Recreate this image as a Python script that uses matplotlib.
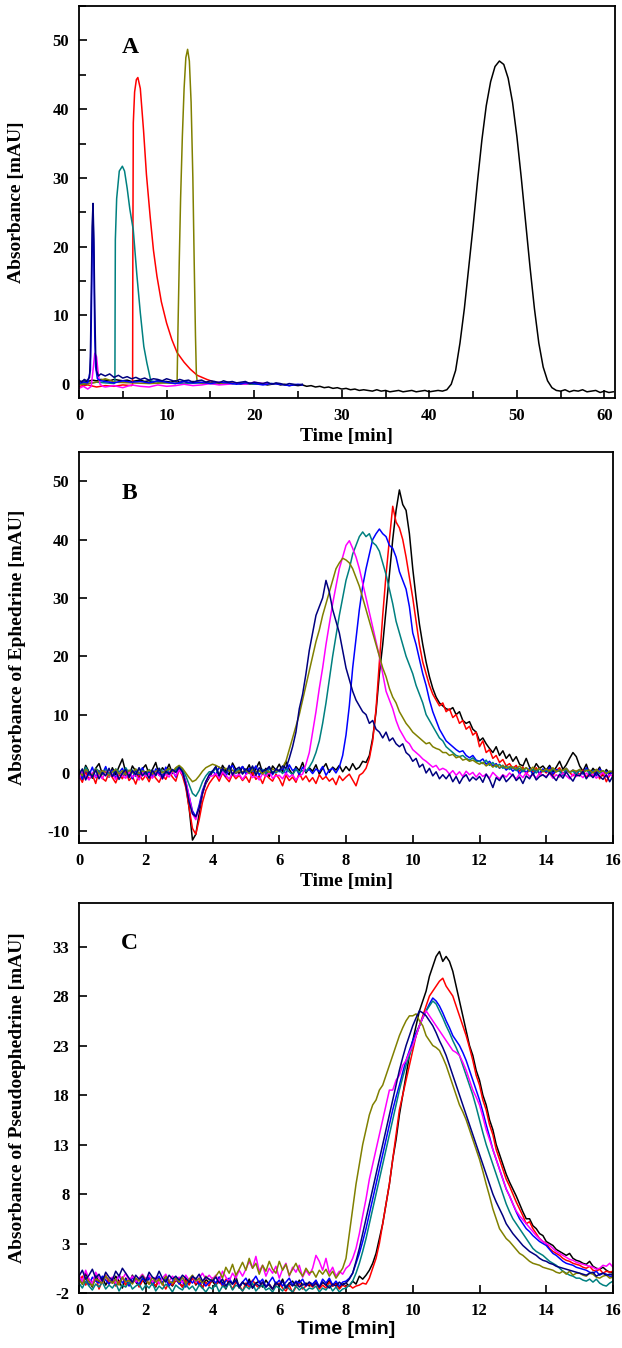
import numpy as np
import matplotlib
matplotlib.use('Agg')
import matplotlib.pyplot as plt
from matplotlib.ticker import MultipleLocator

plt.rcParams['font.family'] = ['Liberation Serif', 'DejaVu Serif']
plt.rcParams['font.weight'] = 'bold'
plt.rcParams['axes.unicode_minus'] = False

COLORS = {'black': '#000000', 'red': '#ff0000', 'blue': '#0000ff', 'teal': '#008080',
          'magenta': '#ff00ff', 'olive': '#808000', 'navy': '#000080'}

# ---------------- Panel A: full chromatograms ----------------
BLACK_A_T = list(np.round(np.arange(123) * 0.5, 1))
BLACK_A = [0.3, 0.5, 0.4, 0.6, 0.5, 0.7, 0.6, 0.5, 0.7, 0.6,
           0.5, 0.6, 0.4, 0.5, 0.6, 0.4, 0.5, 0.3, 0.5, 0.4,
           0.4, 0.3, 0.5, 0.3, 0.4, 0.2, 0.4, 0.3, 0.2, 0.3,
           0.2, 0.3, 0.1, 0.2, 0.3, 0.1, 0.2, 0.0, 0.2, 0.1,
           0.1, 0.0, 0.1, -0.1, 0.0, 0.1, -0.1, 0.0, -0.2, -0.1,
           -0.2, -0.1, -0.3, -0.2, -0.4, -0.3, -0.5, -0.4, -0.6, -0.5,
           -0.7, -0.6, -0.8, -0.7, -0.9, -0.8, -0.9, -1.0, -0.8, -1.0,
           -0.9, -1.1, -1.0, -0.9, -1.1, -1.0, -0.9, -1.1, -1.0, -0.9,
           -1.1, -1.0, -0.9, -1.0, -0.8, 0.0, 2.0, 6.0, 11.0, 17.0,
           23.0, 29.5, 35.5, 40.5, 44.0, 46.2, 47.0, 46.5, 44.5, 41.0,
           36.0, 30.0, 23.5, 17.0, 11.0, 6.0, 2.5, 0.5, -0.5, -0.9,
           -1.0, -0.8, -1.1, -0.9, -1.0, -0.8, -1.1, -1.0, -0.9, -1.2,
           -1.0, -1.2, -1.1]

NAVY_A_T = [0, 0.3, 0.6, 0.9, 1.2, 1.3, 1.4, 1.5, 1.6, 1.7, 1.8, 1.9, 2.0, 2.2, 2.5] + \
    list(np.round(np.arange(46) * 0.5 + 3.0, 1))
NAVY_A = [0.6, 0.3, 0.7, 0.5, 1.0, 4.0, 13.0, 23.0, 26.3, 21.0, 11.0, 4.5, 2.0, 1.2, 1.5,
          1.2, 1.5, 1.0, 1.3, 0.9, 1.1, 0.8, 1.0, 0.7, 0.9,
          0.6, 0.8, 0.7, 0.5, 0.8, 0.6, 0.4, 0.7, 0.5, 0.6,
          0.3, 0.5, 0.6, 0.3, 0.5, 0.4, 0.2, 0.5, 0.3, 0.4,
          0.2, 0.3, 0.4, 0.1, 0.3, 0.2, 0.1, 0.3, 0.0, 0.2,
          0.1, -0.1, 0.1, 0.0, -0.1, 0.0]

BLUE_A_T = [0, 0.5, 1.0, 1.3, 1.4, 1.5, 1.6, 1.7, 1.8, 1.9, 2.1, 2.5] + list(range(3, 26)) + [25.5]
BLUE_A = [0.1, 0.3, 0.2, 2.0, 9.0, 19.0, 25.0, 18.0, 7.0, 2.5, 0.8, 0.5,
          0.4, 0.2, 0.5, 0.3, 0.4, 0.2, 0.5, 0.3, 0.1, 0.4, 0.2, 0.3,
          0.1, 0.3, 0.2, 0.0, 0.2, 0.1, -0.1, 0.1, 0.0, -0.2, 0.0, -0.1]

MAGENTA_A_T = [0, 0.5, 1.0, 1.4, 1.6, 1.8, 2.0, 2.2, 2.4, 2.7] + list(range(3, 22)) + [21.5]
MAGENTA_A = [-0.6, -0.3, -0.7, -0.3, 2.0, 4.5, 4.0, 1.5, 0.0, -0.3,
             -0.4, -0.2, -0.5, -0.1, -0.3, -0.4, -0.1, -0.3, -0.2, 0.0,
             -0.2, -0.1, 0.1, -0.1, 0.0, 0.2, 0.0, 0.3, 0.1, 0.2]

TEAL_A_T = [0, 1, 2, 3, 4, 4.1, 4.12, 4.15, 4.3, 4.6, 4.95, 5.2, 5.5, 5.8, 6.2,
            6.6, 7.0, 7.4, 7.75, 8.2, 9, 10, 12, 14, 16, 18, 20, 22]
TEAL_A = [0.0, 0.1, 0.3, 0.2, 0.1, 0.2, 10.0, 21.0, 27.0, 31.0, 31.7, 31.0, 28.5, 25.5, 22.4,
          16.0, 10.4, 5.5, 3.1, 0.5, 0.3, 0.2, 0.1, 0.2, 0.0, 0.1, 0.0, 0.1]

RED_A_T = [0, 1, 2, 3, 4, 5, 6.0, 6.12, 6.15, 6.2, 6.35, 6.55, 6.72, 7.0, 7.37,
           7.7, 8.13, 8.5, 8.9, 9.4, 10.0, 10.6, 11.2, 12.0, 12.7, 13.5, 14.6, 15.5, 17, 19, 21]
RED_A = [-0.3, -0.1, -0.4, -0.2, -0.3, -0.1, -0.2, -0.1, 20.0, 38.0, 42.5, 44.3, 44.6, 43.0, 36.9,
         30.5, 24.3, 19.5, 15.7, 12.0, 8.9, 6.5, 4.6, 3.2, 2.2, 1.3, 0.7, 0.3, 0.2, 0.1, 0.0]

OLIVE_A_T = [0, 1, 2, 2.5, 3.0, 3.5, 4, 6, 8, 10, 11.0, 11.2, 11.3, 11.45, 11.6, 11.8,
             12.0, 12.2, 12.4, 12.6, 12.8, 13.0, 13.15, 13.3, 13.4, 13.5, 14, 16, 18, 20, 22]
OLIVE_A = [0.0, 0.1, 0.3, 0.6, 0.8, 0.6, 0.3, 0.2, 0.1, 0.2, 0.1, 0.3, 8.0, 18.0, 27.0, 36.0,
           43.0, 47.5, 48.7, 47.0, 41.0, 30.0, 18.0, 7.0, 1.5, 0.3, 0.2, 0.1, 0.2, 0.1, 0.0]

# ---------------- Panels B and C: 0.1 min sampling, 0 - 16 min ----------------
TIME_BC = np.round(np.arange(161) * 0.1, 1)

# Panel B: ephedrine
BLACK_B = [0.5, -0.6, 1.3, 0.2, -0.9, 0.8, 1.6, -0.2, 0.4, -0.7,
           0.9, -0.3, 1.1, 2.4, 0.1, -0.5, 1.2, 0.3, -0.8, 0.7,
           1.4, -0.2, 0.6, 1.8, -0.4, 0.9, 0.2, 1.5, -0.1, 0.8,
           1.2, 0.4, -2.0, -6.0, -11.5, -10.5, -7.0, -3.5, -1.8, -0.8,
           0.2, 1.0, -0.5, 1.3, 0.4, -0.3, 1.7, 0.6, -0.2, 1.1,
           0.3, 1.4, -0.4, 0.7, 1.9, 0.0, 0.8, -0.6, 1.2, 0.5,
           1.5, 0.2, 2.0, 0.6, -0.3, 1.1, 0.4, 1.8, 0.0, 0.9,
           0.3, 1.4, -0.2, 0.8, 1.6, 0.1, 1.0, 0.5, 1.3, 0.2,
           1.1, 0.4, 1.6, 0.6, 1.0, 2.0, 1.8, 3.0, 6.0, 10.5,
           17.0, 22.0, 28.0, 34.0, 40.0, 45.0, 48.5, 46.0, 45.0, 41.0,
           35.0, 30.0, 25.5, 22.0, 19.0, 16.5, 14.5, 13.0, 12.0, 11.5,
           11.0, 10.8, 11.2, 10.0, 10.5, 9.0, 8.5, 8.8, 7.5, 7.0,
           5.5, 6.0, 5.0, 4.2, 3.5, 4.5, 3.0, 3.8, 2.5, 3.2,
           2.0, 2.8, 1.5, 1.2, 2.5, 1.0, 0.4, 1.6, 0.8, 1.2,
           0.5, 1.3, 0.2, 1.0, 2.0, 0.6, 1.4, 2.5, 3.5, 2.8,
           1.2, 0.3, 1.5, -0.2, 0.8, 0.1, 1.0, -0.5, 0.6, -0.1,
           0.4]
RED_B = [-0.5, -1.6, 0.2, -1.1, -0.3, -1.8, 0.4, -0.9, -1.4, 0.1,
         -0.8, -1.7, -0.2, -1.0, 0.3, -1.3, -0.6, -1.9, -0.1, -1.2,
         -0.4, -1.5, 0.0, -0.9, -1.6, -0.3, -1.1, 0.2, -0.7, -1.4,
         0.6, -0.5, -2.5, -6.0, -9.5, -10.5, -8.0, -5.0, -3.0, -1.8,
         -1.0, -0.3, -1.4, 0.0, -0.8, -1.5, -0.2, -1.0, -0.4, -1.3,
         -0.6, -1.6, 0.1, -1.1, -0.5, -1.8, -0.3, -0.9, -1.4, -0.2,
         -1.0, -2.2, -0.4, -1.3, -0.7, -1.6, 0.0, -1.2, -0.5, -1.5,
         -0.8, -1.8, -0.3, -1.1, -0.6, -1.4, -0.9, -2.0, -0.5, -1.3,
         -0.7, -0.2, -1.2, -2.2, -0.4, 0.0, 0.8, 2.5, 5.5, 11.0,
         19.0, 27.0, 34.0, 40.0, 45.7, 43.0, 42.0, 40.0, 37.0, 33.5,
         30.0, 26.0, 22.0, 19.0, 17.0, 15.0, 13.5, 12.5, 11.5, 12.0,
         10.5, 11.0, 9.5, 10.0, 8.5, 9.0, 7.5, 8.0, 6.5, 7.0,
         4.5, 5.5, 3.5, 4.0, 2.5, 3.0, 1.8, 2.3, 1.2, 1.6,
         0.8, 1.3, 0.3, 1.0, -0.2, 0.6, 0.2, 0.9, -0.3, 0.5,
         0.0, 0.7, -0.4, 0.4, 0.9, -0.2, 0.5, 0.1, -0.5, 0.3,
         -0.3, 0.5, -0.8, 0.2, -0.5, 0.6, -1.0, 0.0, -1.5, -0.4,
         0.3]
BLUE_B = [0.2, -1.1, 0.7, -0.4, 1.0, -0.8, 0.3, -0.2, 1.1, -0.6,
          0.5, -0.9, 0.1, 0.8, -0.5, 0.4, -1.0, 0.6, -0.3, 0.9,
          -0.4, 0.3, -0.8, 0.7, 0.0, -0.6, 1.0, -0.2, 0.5, -0.7,
          1.0, 0.2, -1.5, -4.0, -6.5, -7.5, -5.5, -3.0, -1.5, -0.5,
          0.4, -0.3, 1.0, 0.2, -0.6, 0.7, 1.3, -0.1, 0.5, 1.1,
          -0.2, 0.8, 0.3, 1.2, -0.4, 0.6, 0.1, 1.0, -0.3, 0.7,
          0.2, 0.9, -0.2, 1.4, 0.4, 0.8, -0.3, 1.0, 0.3, 0.6,
          -0.1, 0.7, 0.2, 1.1, -0.4, 0.5, 0.8, 0.0, 1.0, 3.0,
          6.5, 11.5, 18.0, 23.0, 28.0, 32.0, 35.0, 37.5, 40.0, 41.0,
          41.8, 41.0, 40.5, 39.0, 38.5, 37.0, 34.5, 33.0, 31.5, 28.5,
          24.0, 22.0, 19.5, 17.0, 15.0, 12.5, 10.5, 9.0, 7.5, 6.5,
          5.5, 5.0, 4.5, 4.0, 3.6, 3.8, 3.0, 2.6, 3.0, 2.2,
          2.0, 2.4, 1.5, 2.0, 1.2, 1.6, 0.8, 1.3, 0.5, 1.0,
          0.3, 0.9, -0.2, 0.6, 0.1, 0.8, -0.3, 0.5, 0.0, 0.7,
          0.2, 1.0, -0.2, 0.6, 0.3, -0.4, 0.8, 0.1, 0.5, -0.3,
          0.6, -0.2, 0.9, 0.0, 0.4, -0.5, 0.7, 0.1, 0.3, -0.4,
          0.4]
TEAL_B = [0.6, -0.4, 1.0, 0.1, -0.7, 0.8, 0.3, -0.3, 0.6, -0.1,
          -0.5, 0.7, 0.2, -0.4, 0.9, 0.0, 0.5, -0.6, 0.8, 0.2,
          -0.3, 0.6, 0.1, -0.5, 0.8, 0.3, -0.2, 0.7, 0.0, 0.5,
          1.2, 0.6, -0.5, -2.0, -3.5, -4.0, -3.0, -1.5, -0.5, 0.2,
          0.2, 0.8, -0.3, 0.5, 0.0, 0.9, -0.4, 0.4, 0.7, -0.1,
          0.5, 0.1, 0.8, -0.3, 0.4, 0.6, -0.2, 0.7, 0.2, 0.0,
          0.5, -0.1, 0.7, 0.2, -0.3, 0.6, 0.1, 0.4, 0.3, 1.0,
          2.0, 3.5, 5.5, 8.5, 12.0, 16.0, 20.0, 23.5, 27.0, 30.0,
          33.0, 35.0, 37.5, 39.0, 40.5, 41.3, 40.5, 41.0, 39.5, 39.0,
          38.0, 36.0, 34.0, 31.5, 29.0, 26.0, 24.0, 22.0, 20.0, 18.5,
          17.0, 15.0, 13.5, 12.0, 10.0, 9.0, 8.0, 7.0, 6.0, 5.5,
          4.5, 4.0, 3.5, 3.0, 2.8, 3.0, 2.5, 2.2, 2.6, 2.0,
          2.0, 1.6, 2.2, 1.3, 1.8, 1.0, 1.5, 0.8, 1.2, 0.6,
          1.0, 0.4, 0.8, 0.2, 0.9, 0.3, 0.6, 0.0, 0.7, 0.2,
          0.5, 0.0, 0.7, 0.2, 0.4, -0.3, 0.6, 0.1, 0.3, -0.2,
          0.4, 0.0, 0.6, -0.2, 0.3, 0.5, -0.1, 0.4, 0.0, 0.3,
          0.2]
MAGENTA_B = [-0.9, 0.2, -0.5, -1.2, 0.1, -0.7, -0.2, -1.0, 0.3, -0.6,
             -0.2, -1.1, 0.0, -0.5, -0.9, 0.2, -0.7, -0.3, -1.2, 0.1,
             -0.6, -0.1, -0.9, 0.2, -0.4, -1.0, -0.2, -0.7, 0.3, -0.5,
             0.5, -0.2, -1.5, -4.0, -7.0, -8.0, -6.0, -3.5, -1.5, -0.6,
             -0.5, -0.1, -0.9, 0.2, -0.4, -1.0, 0.0, -0.6, -0.2, -1.1,
             -0.3, 0.2, -0.8, -0.4, -1.2, -0.1, -0.6, 0.1, -0.9, -0.5,
             -0.4, -1.0, 0.0, -0.7, -0.3, -1.2, -0.5, -0.2, 1.5, 3.5,
             7.0, 10.5, 14.5, 18.0, 22.0, 25.5, 29.0, 32.0, 35.0, 37.0,
             39.0, 39.8, 38.5, 37.0, 35.0, 32.5, 30.0, 27.5, 25.0, 22.5,
             20.0, 17.0, 14.0, 12.5, 11.0, 9.0, 7.5, 6.5, 5.5, 5.0,
             4.0, 3.5, 3.0, 2.4, 2.0, 1.5, 1.0, 1.3, 0.5, 0.8,
             0.5, -0.2, 0.4, -0.4, 0.2, -0.6, 0.3, -0.3, 0.1, -0.7,
             0.0, -0.6, -0.2, -0.9, 0.1, -0.5, -1.0, -0.3, -0.7, 0.0,
             -0.5, -1.0, -0.2, -0.8, 0.1, -0.6, -0.3, -0.9, 0.0, -0.4,
             -0.6, -0.1, -0.9, -0.3, -0.7, 0.0, -0.5, -1.0, -0.2, -0.6,
             -0.3, -0.8, 0.0, -0.6, -0.2, -0.9, -0.4, 0.1, -0.7, -0.3,
             -0.6]
OLIVE_B = [0.3, -0.5, 0.6, 0.0, -0.4, 0.7, -0.2, 0.4, 0.1, -0.5,
           0.2, 0.6, -0.2, 0.4, -0.3, 0.5, 0.0, 0.7, -0.1, 0.3,
           0.2, 0.5, -0.1, 0.3, 0.6, 0.0, 0.4, 0.8, 0.2, 0.9,
           1.3, 0.8, 0.0, -0.8, -1.5, -1.2, -0.5, 0.3, 0.9, 1.2,
           1.5, 1.3, 1.0, 0.6, 0.8, 0.3, 0.5, 0.0, 0.4, 0.2,
           0.5, -0.1, 0.6, 0.2, 0.4, -0.2, 0.5, 0.1, 0.7, 0.3,
           0.5, 1.0, 2.0, 4.0, 6.0, 8.0, 10.0, 12.5, 15.0, 17.5,
           20.0, 22.5, 24.5, 27.0, 29.0, 31.0, 33.0, 35.0, 36.0, 36.8,
           36.5, 36.0, 35.0, 33.5, 32.0, 30.0, 28.0, 26.0, 24.0, 22.0,
           20.0, 18.0, 16.5, 14.5, 13.0, 12.0, 10.5, 9.5, 8.5, 7.8,
           7.0, 6.5, 6.0, 5.5, 5.0, 5.2, 4.5, 4.2, 4.0, 3.5,
           3.5, 3.0, 3.2, 2.6, 2.8, 2.2, 2.4, 2.0, 2.2, 1.8,
           1.5, 1.8, 1.2, 1.6, 1.0, 1.4, 0.9, 1.3, 0.8, 1.1,
           1.0, 0.7, 1.2, 0.6, 0.9, 0.4, 1.0, 0.5, 0.8, 0.3,
           0.7, 0.3, 0.9, 0.2, 0.6, 0.4, 0.8, 0.1, 0.5, 0.3,
           0.6, 0.1, 0.4, 0.5, 0.0, 0.6, 0.2, 0.4, -0.1, 0.3,
           0.2]
NAVY_B = [-0.3, 0.7, -1.2, 0.2, -0.7, 0.5, -1.0, 0.1, -0.5, 0.8,
          -0.6, 0.3, -1.1, 0.0, 0.6, -0.8, 0.4, -0.3, 0.9, -0.5,
          0.2, -0.9, 0.5, -0.4, 0.8, -1.0, 0.3, -0.2, 0.6, 0.1,
          1.0, 0.2, -2.0, -5.0, -7.0, -7.5, -6.0, -3.5, -1.5, -0.3,
          0.3, 1.1, -0.5, 0.8, 0.0, 1.3, -0.3, 0.6, 1.0, -0.2,
          0.7, 0.2, 1.2, -0.4, 0.9, 0.3, 0.5, 1.1, -0.1, 0.6,
          0.4, 1.2, 0.8, 2.5, 4.5, 7.0, 11.0, 13.5, 17.0, 21.0,
          24.0, 27.0, 28.5, 30.0, 33.0, 31.0, 28.0, 26.0, 24.0, 21.0,
          18.0, 16.0, 14.0, 12.5, 11.5, 10.5, 10.0, 8.5, 9.0, 7.5,
          7.0, 6.0, 7.0, 5.5, 6.0, 5.0, 4.5, 5.0, 3.5, 3.0,
          2.0, 2.5, 1.0, 1.5, 0.0, 0.8, -0.5, 0.2, -1.0, -0.3,
          -1.0, -0.2, -1.5, -0.6, -1.8, -0.8, -0.3, -1.4, -0.7, -1.2,
          -0.6, -1.6, -0.2, -1.1, -2.5, -0.8, -1.3, -0.4, -1.5, -0.9,
          -0.2, -1.3, -0.7, -1.8, -0.5, -1.0, 0.0, -1.2, -0.6, -0.3,
          -0.8, 0.1, -0.6, -1.3, -0.2, -0.9, 0.2, -0.7, -1.4, -0.3,
          -0.5, 0.3, -1.0, -0.2, -0.8, 0.1, -0.6, -1.1, -0.3, -1.5,
          -0.5]

# Panel C: pseudoephedrine
BLACK_C = [-0.5, -1.1, 0.0, -0.8, -1.4, -0.2, -0.9, -0.4, -1.2, -0.6,
           -1.0, -0.3, -0.8, -1.5, -0.5, -1.1, -0.2, -0.9, -1.3, -0.6,
           -1.2, -0.4, -0.8, -1.4, -0.5, -1.0, -0.3, -0.9, -1.3, -0.7,
           -0.9, -1.4, -0.5, -1.1, -0.3, -1.2, -0.8, -1.5, -0.6, -1.0,
           -0.8, -1.3, -0.4, -1.0, -1.6, -0.7, -1.1, -0.3, -1.5, -0.9,
           -1.3, -0.6, -1.5, -1.0, -0.8, -1.4, -0.7, -1.2, -1.6, -0.9,
           -1.3, -0.6, -1.5, -1.0, -0.8, -1.4, -0.7, -1.2, -1.0, -1.3,
           -1.1, -0.8, -1.4, -0.9, -1.2, -0.7, -1.3, -1.0, -1.5, -1.1,
           -1.0, -1.3, -0.8, -1.1, -0.3, -0.6, -0.2, 0.3, 1.0, 2.0,
           3.5, 5.0, 7.0, 9.0, 11.5, 13.5, 16.0, 18.0, 20.0, 22.0,
           23.5, 25.0, 26.5, 27.5, 28.5, 30.0, 31.0, 32.0, 32.5, 31.5,
           32.0, 31.5, 30.5, 29.0, 27.5, 26.0, 24.5, 23.0, 22.0, 20.5,
           19.5, 18.0, 17.0, 15.5, 14.5, 13.0, 12.0, 11.0, 10.0, 9.2,
           8.5, 7.8, 7.0, 6.2, 5.5, 5.5, 4.8, 4.5, 4.0, 3.8,
           3.2, 3.0, 2.8, 2.4, 2.2, 2.0, 1.8, 2.0, 1.5, 1.3,
           1.2, 1.0, 0.9, 1.2, 0.7, 0.5, 0.4, 0.6, 0.3, 0.1,
           0.0]
RED_C = [-0.8, -0.3, -1.2, -0.6, -1.0, -0.4, -1.6, -0.7, -0.2, -1.1,
         -0.6, -1.3, -0.9, -0.4, -1.2, -0.7, -1.0, -0.5, -1.4, -0.8,
         -0.5, -1.1, -0.8, -1.3, -0.6, -1.0, -1.6, -0.9, -1.2, -0.7,
         -1.0, -1.4, -0.7, -1.2, -0.5, -1.1, -0.8, -1.5, -0.9, -1.3,
         -0.5, -1.1, -0.8, -1.3, -0.6, -1.0, -1.6, -0.9, -1.2, -1.8,
         -1.0, -1.4, -0.7, -1.2, -1.5, -0.9, -1.3, -1.1, -1.6, -1.2,
         -1.0, -1.5, -1.8, -1.2, -2.0, -1.4, -1.0, -1.6, -1.3, -1.1,
         -1.4, -1.0, -1.6, -1.2, -1.5, -0.9, -1.3, -1.1, -1.6, -1.2,
         -1.4, -1.2, -1.5, -1.3, -1.2, -1.0, -1.1, -0.5, 0.5, 1.5,
         3.0, 5.0, 7.0, 9.0, 11.5, 14.0, 16.5, 18.0, 19.5, 21.0,
         22.5, 24.0, 25.0, 26.0, 27.0, 28.0, 28.5, 29.0, 29.5, 29.8,
         29.0, 28.5, 28.0, 27.0, 26.0, 25.0, 24.0, 22.8, 21.5, 20.0,
         19.0, 17.5, 16.5, 15.0, 14.0, 12.5, 11.5, 10.5, 9.5, 8.8,
         8.0, 7.2, 6.5, 5.8, 5.0, 5.2, 4.5, 4.0, 3.5, 3.2,
         3.0, 2.5, 2.2, 2.0, 1.8, 1.5, 1.3, 1.2, 1.0, 0.9,
         0.8, 0.6, 0.5, 0.7, 0.3, 0.2, 0.4, 0.0, 0.2, 0.1,
         0.2]
BLUE_C = [-0.3, -0.9, -0.5, -1.2, -0.4, -0.8, -1.0, -0.3, -0.7, -1.1,
          -0.5, -0.9, -0.2, -1.0, -0.6, -1.3, -0.4, -0.8, -1.1, -0.5,
          -0.9, -0.4, -1.2, -0.7, -0.3, -1.0, -0.6, -1.3, -0.8, -0.5,
          -1.1, -0.7, -1.4, -0.6, -1.0, -0.5, -1.2, -0.8, -1.3, -0.9,
          -0.6, -1.0, -0.4, -1.2, -0.8, -0.5, -1.1, -0.7, -1.3, -0.9,
          -0.5, -1.2, -0.8, -0.3, -1.0, -0.6, -1.4, -0.9, -0.4, -1.1,
          -0.7, -1.3, -0.9, -0.5, -1.2, -0.8, -1.0, -0.6, -1.3, -0.9,
          -1.1, -0.7, -1.4, -0.6, -1.0, -0.5, -1.2, -0.8, -1.3, -0.9,
          -0.8, -0.5, 0.0, 1.0, 2.0, 3.2, 4.5, 6.0, 7.5, 9.0,
          10.5, 12.0, 13.5, 15.0, 16.5, 17.8, 19.0, 20.3, 21.5, 22.5,
          23.5, 24.3, 25.0, 25.8, 26.5, 27.2, 27.8, 27.5, 27.0, 26.3,
          25.5, 24.8, 24.0, 23.5, 23.0, 22.3, 21.5, 20.5, 19.5, 18.5,
          17.5, 16.3, 15.0, 13.8, 12.5, 11.5, 10.5, 9.5, 8.5, 7.8,
          7.0, 6.2, 5.5, 5.0, 4.5, 4.2, 3.8, 3.5, 3.2, 3.0,
          2.8, 2.4, 2.0, 1.8, 1.5, 1.2, 1.0, 0.9, 0.8, 0.6,
          0.5, 0.4, 0.3, 0.1, 0.0, 0.2, -0.2, 0.0, -0.1, -0.3,
          -0.3]
TEAL_C = [-1.0, -1.5, -0.8, -1.3, -1.7, -1.1, -1.4, -0.9, -1.6, -1.2,
          -1.5, -1.0, -1.8, -1.2, -1.4, -0.9, -1.6, -1.3, -1.1, -1.7,
          -1.2, -1.5, -1.0, -1.8, -1.3, -1.6, -1.1, -1.4, -1.9, -1.2,
          -1.5, -1.7, -1.1, -1.6, -1.3, -1.8, -1.2, -1.5, -1.9, -1.4,
          -1.6, -1.1, -1.9, -1.3, -1.5, -1.0, -1.7, -1.2, -1.4, -1.8,
          -1.3, -1.6, -1.0, -1.8, -1.4, -1.2, -1.7, -1.5, -1.9, -1.3,
          -1.5, -1.8, -1.2, -1.6, -1.9, -1.3, -1.7, -1.4, -1.8, -1.5,
          -1.6, -1.3, -1.9, -1.5, -1.7, -1.2, -1.8, -1.4, -1.9, -1.6,
          -1.5, -1.2, -0.8, 0.0, 1.0, 2.2, 3.5, 5.0, 6.5, 8.0,
          9.5, 11.0, 12.5, 14.0, 15.5, 17.0, 18.5, 19.8, 21.0, 22.0,
          23.0, 24.0, 25.0, 25.8, 26.5, 27.0, 27.5, 27.2, 26.5, 25.8,
          25.0, 24.3, 23.5, 22.8, 22.0, 21.0, 20.0, 19.0, 18.0, 16.8,
          15.5, 14.2, 13.0, 12.0, 11.0, 10.0, 9.0, 8.0, 7.0, 6.2,
          5.5, 5.0, 4.5, 4.0, 3.5, 3.0, 2.5, 2.2, 2.0, 1.8,
          1.5, 1.2, 1.0, 0.8, 0.5, 0.2, 0.0, -0.2, -0.3, -0.5,
          -0.5, -0.7, -0.8, -0.6, -0.9, -0.6, -1.0, -1.2, -1.3, -1.0,
          -0.8]
MAGENTA_C = [-0.2, -0.9, 0.3, -0.6, -1.1, 0.1, -0.5, -1.0, -0.3, -0.7,
             -0.4, -1.0, -0.2, -0.6, 0.0, -0.8, -0.3, -0.9, -0.5, -0.1,
             -0.6, -0.2, -0.9, -0.4, -1.1, -0.5, -0.1, -0.8, -0.3, -0.7,
             -0.4, -1.0, -0.2, -0.7, -0.3, -0.9, -0.5, 0.0, -0.6, -0.2,
             -0.6, -0.2, -0.9, 0.2, -0.4, -0.8, 0.0, -0.5, 0.3, -0.3,
             0.4, 1.2, 0.5, 1.7, 0.2, 0.8, -0.3, 0.5, 0.0, 0.7,
             -0.5, 0.4, 1.0, -0.3, 0.6, 0.1, 0.8, -0.4, 0.3, -0.2,
             0.5, 1.8, 1.2, 0.3, 1.5, 0.0, 0.6, -0.3, 0.2, -0.1,
             0.5, 0.8, 1.5, 2.5, 4.0, 5.8, 7.5, 9.5, 11.0, 12.5,
             14.0, 15.5, 17.0, 18.5, 18.5, 19.5, 20.0, 21.0, 21.5, 22.3,
             23.0, 24.0, 25.0, 25.8, 26.5, 26.0, 25.5, 25.0, 24.5, 24.0,
             23.5, 23.0, 22.5, 22.3, 22.0, 21.3, 20.5, 19.5, 18.5, 17.8,
             17.0, 15.8, 14.5, 13.5, 12.5, 11.5, 10.5, 9.5, 8.5, 7.8,
             7.0, 6.3, 5.8, 5.4, 5.0, 4.6, 4.2, 3.8, 3.5, 3.2,
             3.0, 2.8, 2.5, 2.2, 2.0, 1.8, 1.6, 1.4, 1.3, 1.1,
             1.0, 0.9, 0.8, 0.7, 0.6, 0.4, 0.5, 0.8, 0.7, 1.0,
             0.6]
OLIVE_C = [-0.6, -1.1, -0.4, -0.9, -1.3, -0.5, -0.8, -1.0, -0.3, -0.7,
           -1.0, -0.6, -1.2, -0.4, -0.9, -0.7, -1.1, -0.5, -0.8, -0.2,
           -0.7, -1.1, -0.4, -0.9, -0.6, -1.2, -0.3, -0.8, -1.0, -0.5,
           -0.9, -0.4, -1.1, -0.6, -0.2, -0.8, -0.5, -1.0, -0.3, -0.7,
           -0.7, -0.3, 0.2, -0.5, 0.6, 0.0, 0.9, -0.2, 0.4, 1.1,
           0.3, 1.5, 0.5, 1.0, -0.1, 0.8, 0.2, 1.2, 0.4, 0.0,
           1.2, 0.3, 0.9, -0.2, 0.4, 1.0, 0.2, -0.3, 0.5, 0.0,
           0.2, -0.4, 0.3, -0.1, 0.4, -0.3, 0.2, -0.5, 0.0, 0.5,
           1.5, 4.0, 6.5, 9.0, 11.0, 13.0, 14.5, 16.0, 17.0, 17.5,
           18.5, 19.0, 20.0, 21.0, 22.0, 23.0, 24.0, 24.8, 25.5, 26.0,
           26.0, 26.2, 25.5, 25.0, 24.0, 23.5, 23.0, 22.8, 22.5, 21.8,
           21.0, 20.0, 19.0, 18.0, 17.0, 16.3, 15.5, 14.5, 13.5, 12.5,
           11.5, 10.3, 9.0, 7.8, 6.5, 5.5, 4.5, 4.0, 3.5, 3.2,
           2.8, 2.4, 2.0, 1.8, 1.5, 1.2, 1.0, 0.9, 0.8, 0.6,
           0.5, 0.4, 0.3, 0.1, 0.0, 0.2, -0.1, 0.2, -0.2, 0.0,
           0.0, -0.2, -0.3, 0.0, -0.1, -0.4, -0.5, -0.3, -0.2, -0.5,
           -0.4]
NAVY_C = [-0.3, 0.3, -0.6, -0.2, 0.4, -0.5, -0.1, -0.8, 0.1, -0.4,
          -0.7, 0.2, -0.3, 0.5, 0.0, -0.5, -0.9, -0.2, -0.6, -0.3,
          -0.8, 0.1, -0.4, -0.6, 0.2, -0.5, -0.9, -0.2, -0.6, -0.3,
          -0.7, -0.2, -0.5, -0.9, -0.3, -0.6, -0.1, -0.8, -0.4, -0.6,
          -0.8, -0.4, -1.0, -0.6, -1.3, -0.8, -1.1, -0.7, -1.4, -0.9,
          -1.2, -0.8, -1.5, -1.0, -1.3, -0.9, -1.4, -1.1, -1.6, -1.0,
          -1.2, -0.8, -1.5, -1.0, -1.3, -0.9, -1.4, -1.1, -1.2, -0.9,
          -1.3, -1.0, -1.4, -0.9, -1.2, -1.5, -1.1, -1.3, -0.9, -1.2,
          -1.0, -0.6, 0.0, 1.2, 2.5, 4.0, 5.5, 7.0, 8.5, 10.0,
          11.5, 13.0, 14.5, 16.0, 17.5, 19.0, 20.5, 21.8, 23.0, 24.0,
          25.0, 25.8, 26.5, 26.3, 26.0, 25.5, 25.0, 24.3, 23.5, 22.8,
          22.0, 21.0, 20.0, 19.0, 18.0, 17.0, 16.0, 15.0, 14.0, 13.0,
          12.0, 11.0, 10.0, 9.0, 8.0, 7.2, 6.5, 5.8, 5.0, 4.5,
          4.0, 3.6, 3.2, 2.8, 2.5, 2.2, 2.0, 1.8, 1.5, 1.3,
          1.2, 1.0, 0.9, 0.7, 0.6, 0.5, 0.4, 0.3, 0.2, 0.1,
          0.0, -0.1, -0.2, 0.0, 0.1, -0.3, -0.1, 0.0, -0.2, -0.1,
          -0.2]

LW = 1.1

fig = plt.figure(figsize=(6.22, 13.48), dpi=100)
fig.patch.set_facecolor('white')
ax_a = fig.add_axes([79 / 622, 1 - 398 / 1348, 536 / 622, 392 / 1348])
ax_b = fig.add_axes([79 / 622, 1 - 843 / 1348, 534 / 622, 391 / 1348])
ax_c = fig.add_axes([79 / 622, 1 - 1293 / 1348, 534 / 622, 390 / 1348])

# Panel A
for t, y, c in [(BLACK_A_T, BLACK_A, 'black'), (RED_A_T, RED_A, 'red'),
                (TEAL_A_T, TEAL_A, 'teal'), (OLIVE_A_T, OLIVE_A, 'olive'),
                (MAGENTA_A_T, MAGENTA_A, 'magenta'), (BLUE_A_T, BLUE_A, 'blue'),
                (NAVY_A_T, NAVY_A, 'navy')]:
    ax_a.plot(t, y, color=COLORS[c], lw=LW)
ax_a.set_xlim(0, 61.2)
ax_a.set_ylim(-2, 55)
ax_a.xaxis.set_major_locator(MultipleLocator(10))
ax_a.xaxis.set_minor_locator(MultipleLocator(5))
ax_a.yaxis.set_major_locator(MultipleLocator(10))
ax_a.yaxis.set_minor_locator(MultipleLocator(5))
ax_a.set_ylabel('Absorbance [mAU]', fontsize=14, fontweight='bold')

# Panel B
for y, c in [(BLACK_B, 'black'), (RED_B, 'red'), (BLUE_B, 'blue'), (TEAL_B, 'teal'),
             (MAGENTA_B, 'magenta'), (OLIVE_B, 'olive'), (NAVY_B, 'navy')]:
    ax_b.plot(TIME_BC, y, color=COLORS[c], lw=LW)
ax_b.set_xlim(0, 16)
ax_b.set_ylim(-12, 55)
ax_b.xaxis.set_major_locator(MultipleLocator(2))
ax_b.yaxis.set_major_locator(MultipleLocator(10))
ax_b.set_ylabel('Absorbance of Ephedrine [mAU]', fontsize=14, fontweight='bold')

# Panel C
for y, c in [(BLACK_C, 'black'), (RED_C, 'red'), (BLUE_C, 'blue'), (TEAL_C, 'teal'),
             (MAGENTA_C, 'magenta'), (OLIVE_C, 'olive'), (NAVY_C, 'navy')]:
    ax_c.plot(TIME_BC, y, color=COLORS[c], lw=LW)
ax_c.set_xlim(0, 16)
ax_c.set_ylim(-2, 37.4)
ax_c.xaxis.set_major_locator(MultipleLocator(2))
ax_c.set_yticks([-2, 3, 8, 13, 18, 23, 28, 33])
ax_c.set_ylabel('Absorbance of Pseudoephedrine [mAU]', fontsize=14, fontweight='bold')

ax_a.set_xlabel('Time [min]', fontsize=14, fontweight='bold', labelpad=3)
ax_b.set_xlabel('Time [min]', fontsize=14, fontweight='bold', labelpad=3)
ax_c.set_xlabel('Time [min]', fontsize=14, fontweight='bold', labelpad=2,
                family=['Liberation Sans', 'DejaVu Sans'])

for ax, letter in [(ax_a, 'A'), (ax_b, 'B'), (ax_c, 'C')]:
    ax.tick_params(which='both', direction='in', top=False, right=False,
                   labelsize=12, pad=7, width=1.2)
    ax.tick_params(which='major', length=6)
    ax.tick_params(which='minor', length=5)
    for sp in ax.spines.values():
        sp.set_linewidth(1.3)
    ax.yaxis.set_label_coords(-0.10, 0.5)
    ax.text(0.095, 0.895, letter, transform=ax.transAxes, fontsize=17,
            fontweight='bold', ha='center', va='center')

fig.savefig('out.png', dpi=100, facecolor='white')
